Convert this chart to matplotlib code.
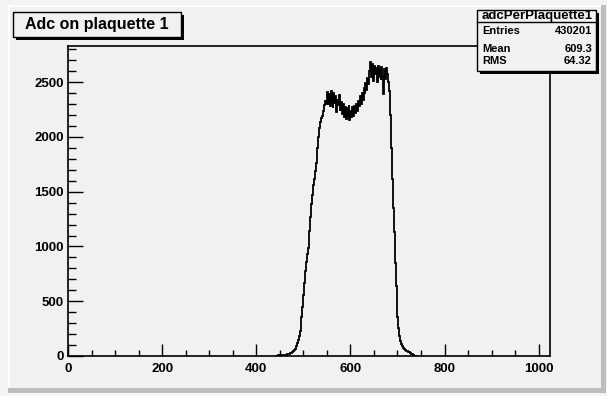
import matplotlib
matplotlib.use("Agg")
import matplotlib.pyplot as plt
from matplotlib.patches import Rectangle
from matplotlib.ticker import MultipleLocator
import numpy as np

plt.rcParams['font.family'] = ['Liberation Sans', 'DejaVu Sans']
plt.rcParams['font.weight'] = 'bold'

# ADC spectrum for plaquette 1, 2-count wide bins starting at ADC 440
bin_start = 440
bin_width = 2
counts = [
    0, 0, 2, 6, 8, 9, 10, 9, 11, 10, 12, 11, 13, 14, 16,
    20, 24, 30, 36, 44, 52, 66, 88, 118, 150, 185, 228, 290, 360, 450,
    560, 670, 780, 860, 930, 990, 1140, 1270, 1390, 1470, 1560, 1620, 1690,
    1760, 1840, 1900, 2000, 2080, 2140, 2170, 2190, 2240, 2290, 2330, 2300,
    2410, 2300, 2390, 2280, 2420, 2320, 2260, 2400, 2310, 2370, 2230, 2340,
    2290, 2380, 2250,
    2320, 2210, 2300, 2180, 2270, 2160, 2260, 2190, 2290, 2150, 2240, 2180,
    2270, 2190, 2280, 2220,
    2300, 2240, 2330, 2280, 2370, 2300, 2400, 2340, 2450, 2390, 2490, 2430,
    2540, 2480,
    2600, 2680, 2550, 2670, 2510, 2650, 2570, 2630, 2500, 2650, 2550, 2610,
    2520, 2640, 2560, 2390, 2620, 2530, 2630, 2570, 2500,
    2420, 2200, 1900, 1620, 1350, 1130, 850, 640, 480, 360, 260, 185, 140,
    110, 90, 75, 64, 58, 50, 44, 38, 33, 28, 22, 16, 10, 6, 3, 2, 0, 0,
]
edges = bin_start + bin_width * np.arange(len(counts) + 1)

x_range = (0, 1024)
y_max = 2830
x_major = [0, 200, 400, 600, 800, 1000]
y_major = [0, 500, 1000, 1500, 2000, 2500]

title_text = "Adc on plaquette 1"
stats_name = "adcPerPlaquette1"
stats_rows = [("Entries", "430201"), ("Mean", "609.3"), ("RMS", "64.32")]

W, H = 607, 396
fig = plt.figure(figsize=(W / 100, H / 100), dpi=100)
fig.patch.set_facecolor('#ececec')


def fx(x):
    return x / W


def fy(y):
    return 1 - y / H


def box(x0, y0, x1, y1, **kw):
    r = Rectangle((fx(x0), fy(y1)), fx(x1) - fx(x0), fy(y0) - fy(y1),
                  transform=fig.transFigure, **kw)
    fig.add_artist(r)
    return r


# canvas bevel: light top/left edge, dark bottom/right edge
box(0, 0, 607, 396, facecolor='#f4f4f4', edgecolor='none', zorder=-10)
box(8, 5, 606, 393, facecolor='#bdbdbd', edgecolor='none', zorder=-9)
box(8, 5, 601, 388, facecolor='#ffffff', edgecolor='none', zorder=-8)
box(10, 7, 601, 388, facecolor='#f1f1f1', edgecolor='none', zorder=-7)

ax = fig.add_axes([fx(68), fy(356), (550 - 68) / W, (356 - 46) / H])
ax.set_facecolor('#f1f1f1')
ax.stairs(counts, edges, color='black', linewidth=1.3)
ax.set_xlim(*x_range)
ax.set_ylim(0, y_max)

ax.set_xticks(x_major)
ax.set_yticks(y_major)
ax.xaxis.set_minor_locator(MultipleLocator(50))
ax.yaxis.set_minor_locator(MultipleLocator(100))
ax.tick_params(axis='x', which='major', direction='in', length=8.5, width=1.0,
               pad=5, labelsize=9.5)
ax.tick_params(axis='x', which='minor', direction='in', length=4.5, width=1.0)
ax.tick_params(axis='y', which='major', direction='in', length=10.5, width=1.0,
               pad=3, labelsize=9.5)
ax.tick_params(axis='y', which='minor', direction='in', length=5.5, width=1.0)
for s in ax.spines.values():
    s.set_linewidth(1.2)

# title box with drop shadow
box(16, 15, 184, 40, facecolor='black', edgecolor='none', zorder=5)
box(13, 12, 181, 37, facecolor='#f1f1f1', edgecolor='black', linewidth=1.0,
    zorder=6)
fig.text(fx(25), fy(24.5), title_text, fontsize=11.5, ha='left', va='center',
         zorder=7)

# statistics box with drop shadow
box(480, 13, 599, 74, facecolor='black', edgecolor='none', zorder=5)
box(477, 10, 596, 71, facecolor='#f1f1f1', edgecolor='black', linewidth=1.0,
    zorder=6)
fig.add_artist(plt.Line2D([fx(477), fx(596)], [fy(22), fy(22)],
                          transform=fig.transFigure, color='black',
                          linewidth=1.0, zorder=7))
clip = box(477, 10.5, 596, 22, facecolor='none', edgecolor='none', zorder=6)
hdr = fig.text(fx(537), fy(19.3), stats_name, fontsize=9.5, ha='center',
               va='baseline', zorder=7)
hdr.set_clip_path(clip)
row_y = [31.5, 49, 61.5]
for (name, val), yy in zip(stats_rows, row_y):
    fig.text(fx(482), fy(yy), name, fontsize=8, ha='left', va='center',
             zorder=7)
    fig.text(fx(592), fy(yy), val, fontsize=8, ha='right', va='center',
             zorder=7)

fig.savefig('out.png', dpi=100, facecolor=fig.get_facecolor())
